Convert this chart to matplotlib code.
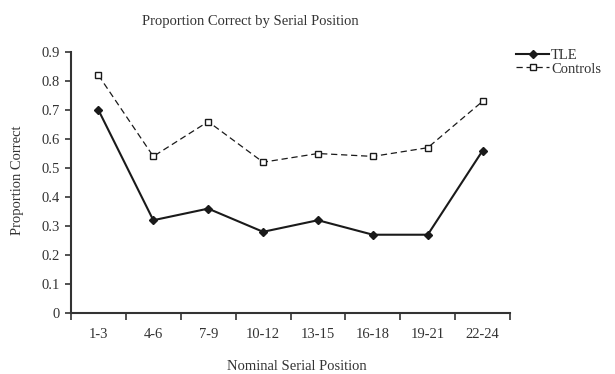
import matplotlib
matplotlib.use("Agg")
import matplotlib.pyplot as plt

categories = ["1-3", "4-6", "7-9", "10-12", "13-15", "16-18", "19-21", "22-24"]
tle = [0.70, 0.32, 0.36, 0.28, 0.32, 0.27, 0.27, 0.56]
controls = [0.82, 0.54, 0.66, 0.52, 0.55, 0.54, 0.57, 0.73]
yticks = [0, 0.1, 0.2, 0.3, 0.4, 0.5, 0.6, 0.7, 0.8, 0.9]
ytick_labels = ["0", "0.1", "0.2", "0.3", "0.4", "0.5", "0.6", "0.7", "0.8", "0.9"]

plt.rcParams['font.family'] = ['Liberation Serif', 'DejaVu Serif']
txt = '#333333'
fs = 10.5

fig = plt.figure(figsize=(6.15, 3.74), dpi=100)
ax = fig.add_axes([0.1154, 0.163, 0.714, 0.698])

x = [i + 0.5 for i in range(len(categories))]
ax.plot(x, tle, color='#1a1a1a', lw=1.5, marker='D', ms=4, mfc='#1a1a1a', mec='#1a1a1a', label='TLE')
ax.plot(x, controls, color='#1a1a1a', lw=0.9, ls=(0, (5, 3)), marker='s', ms=4.5,
        mfc='white', mec='#1a1a1a', mew=1.0, label='Controls')

ax.set_xlim(0, len(categories))
ax.set_ylim(0, 0.9)
ax.set_xticks(range(len(categories) + 1))
ax.set_xticklabels([])
ax.set_xticks(x, minor=True)
ax.set_xticklabels(categories, minor=True, fontsize=fs, color=txt)
ax.tick_params(axis='x', which='minor', length=0, pad=11)
ax.tick_params(axis='x', which='major', length=5, width=1.2, direction='out', color=txt)
ax.set_yticks(yticks)
ax.set_yticklabels(ytick_labels, fontsize=fs, color=txt)
ax.tick_params(axis='y', length=4, width=1.2, direction='out', color=txt, pad=4)

for s in ['top', 'right']:
    ax.spines[s].set_visible(False)
for s in ['left', 'bottom']:
    ax.spines[s].set_linewidth(1.5)
    ax.spines[s].set_color(txt)

fig.text(250 / 615, 1 - 22 / 374, "Proportion Correct by Serial Position", fontsize=fs,
         color=txt, ha='center', va='center')
fig.text(297 / 615, 1 - 366 / 374, "Nominal Serial Position", fontsize=fs,
         color=txt, ha='center', va='center')
fig.text(18 / 615, 1 - 180 / 374, "Proportion Correct", fontsize=fs,
         color=txt, ha='center', va='center', rotation=90)

leg = ax.legend(loc='upper left', bbox_to_anchor=(0.99, 1.05), frameon=False, fontsize=fs,
                handlelength=2.3, handletextpad=0.1, labelspacing=0.0, borderaxespad=0.3,
                labelcolor=txt)

fig.savefig("out.png", dpi=100)
